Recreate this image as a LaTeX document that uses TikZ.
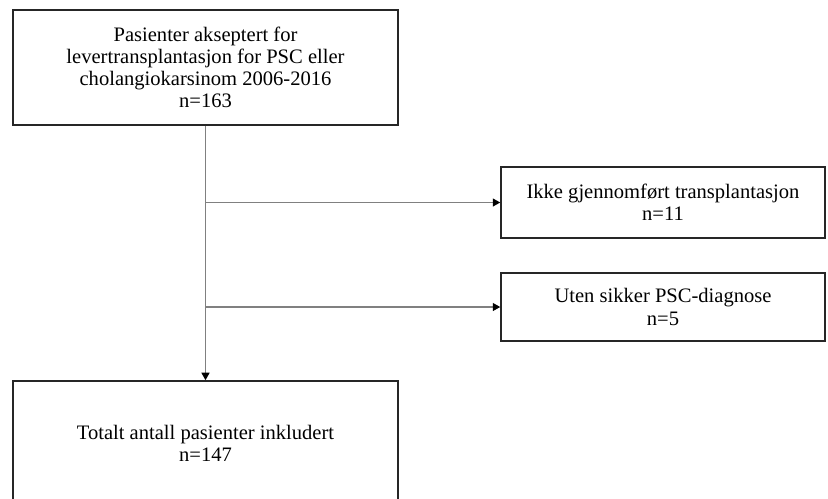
\documentclass[tikz,border=0pt]{standalone}
\usepackage{fontspec}
\setmainfont{Liberation Serif}
\usetikzlibrary{arrows.meta}
\begin{document}
\begin{tikzpicture}[x = 0.02cm, y = -0.02cm,
        box/.style = {draw = black!85, line width = 0.9pt, align = center, inner sep = 0pt,
            font = \fontsize{11.7}{12.6}\selectfont},
        link/.style = {draw = black!50, line width = 0.7pt},
        tip/.style = {-{Triangle[length = 1.5mm, width = 1.6mm, color = black]}}]
        \useasboundingbox (0, 0) rectangle (828, 498);
        \node[box, minimum width = 7.7cm, minimum height = 2.3cm] (start) at (205.5, 67.5)
            {Pasienter akseptert for\\levertransplantasjon for PSC eller\\cholangiokarsinom 2006-2016\\n=163};
        \node[box, minimum width = 6.48cm, minimum height = 1.42cm] (notx) at (663, 202.5)
            {Ikke gjennomført transplantasjon\\n=11};
        \node[box, minimum width = 6.48cm, minimum height = 1.36cm] (nopsc) at (663, 307)
            {Uten sikker PSC-diagnose\\n=5};
        \node[box, minimum width = 7.7cm, minimum height = 2.48cm] (total) at (205.5, 443)
            {Totalt antall pasienter inkludert\\n=147};
        \coordinate (split1) at (start.south |- notx.west);
        \coordinate (split2) at (start.south |- nopsc.west);
        \draw[link, tip] (start.south) -- (total.north);
        \draw[link, tip] (split1) -- (notx.west);
        \draw[link, tip] (split2) -- (nopsc.west);
    \end{tikzpicture}
\end{document}
